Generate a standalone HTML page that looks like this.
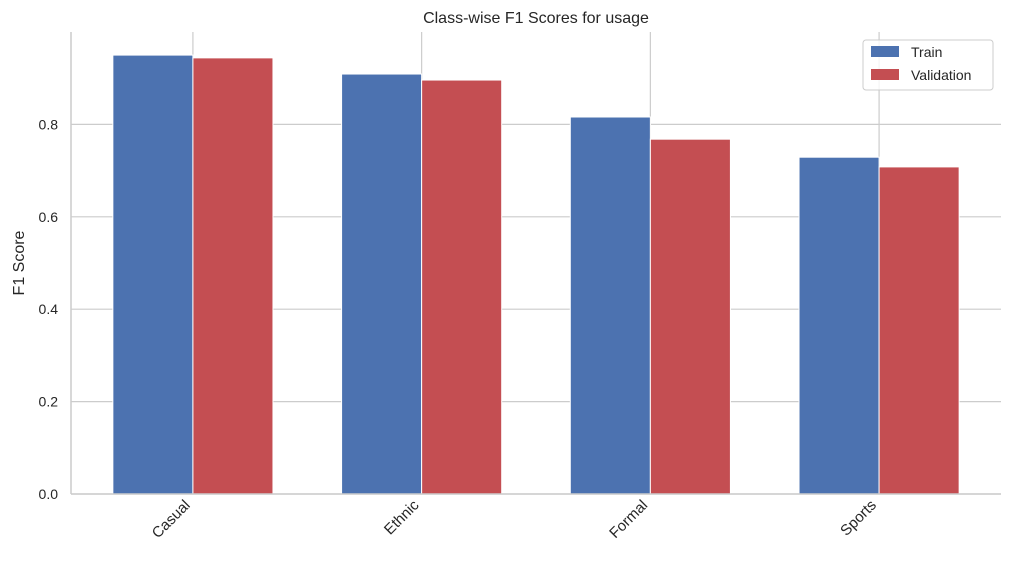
<!DOCTYPE html>
<html><head><meta charset="utf-8"><style>
body{margin:0;background:#fff;}
svg text{font-family:"Liberation Sans","DejaVu Sans",sans-serif;fill:#262626;}
</style></head><body>
<svg id="chart" width="1011" height="565" xmlns="http://www.w3.org/2000/svg">
<text x="536" y="23" font-size="16" text-anchor="middle">Class-wise F1 Scores for usage</text>
<text transform="translate(24,263) rotate(-90)" font-size="16" text-anchor="middle">F1 Score</text>
<g id="grid"></g><g id="bars"></g><g id="axes"></g>
<g>
<rect x="863" y="40" width="130" height="50" rx="3" fill="#fff" fill-opacity="0.8" stroke="#ccc"/>
<rect x="871" y="46" width="28" height="11" fill="#4c72b0"/>
<text x="911" y="57" font-size="14">Train</text>
<rect x="871" y="69" width="28" height="11" fill="#c44e52"/>
<text x="911" y="80" font-size="14">Validation</text>
</g>
</svg>
<script>
const categories=["Casual","Ethnic","Formal","Sports"];
const trainValues=[0.950,0.909,0.816,0.729];
const valValues=[0.944,0.896,0.768,0.708];
const yTicks=[0,0.2,0.4,0.6,0.8];
const yTickLabels=["0.0","0.2","0.4","0.6","0.8"];

const NS="http://www.w3.org/2000/svg";
const L=71,R=1001,T=32,B=494;
const step=(R-L)/(categories.length-1+1.066);
const x=i=>L+step*0.533+i*step;
const y=v=>B-v*(B-T);
const bw=step*0.35;
function mk(tag,attrs,parent){const e=document.createElementNS(NS,tag);for(const k in attrs)e.setAttribute(k,attrs[k]);parent.appendChild(e);return e;}
const grid=document.getElementById('grid'),bars=document.getElementById('bars'),axes=document.getElementById('axes');
yTicks.forEach((t,i)=>{
  const l=mk('line',{x1:L,x2:R,y1:y(t),y2:y(t),stroke:'#cccccc','stroke-width':1.2},grid);
  
  
  const tx=mk('text',{x:L-13,y:y(t)+5,'font-size':14,'text-anchor':'end'},axes);
  tx.textContent=yTickLabels[i];
  
  
});
categories.forEach((c,i)=>{
  const g=mk('line',{x1:x(i),x2:x(i),y1:T,y2:B,stroke:'#cccccc','stroke-width':1.2},grid);
  
  
  const b1=mk('rect',{x:x(i)-bw,y:y(trainValues[i]),width:bw,height:B-y(trainValues[i]),fill:'#4c72b0',stroke:'#fff','stroke-width':1},bars);
  
  
  const b2=mk('rect',{x:x(i),y:y(valValues[i]),width:bw,height:B-y(valValues[i]),fill:'#c44e52',stroke:'#fff','stroke-width':1},bars);
  
  
  const t=mk('text',{transform:`translate(${x(i)-2},${B+12}) rotate(-45)`,'font-size':15,'text-anchor':'end'},axes);
  t.textContent=c;
  
  
});
const la=mk('line',{x1:L,x2:L,y1:T,y2:B,stroke:'#cccccc','stroke-width':1.5},axes);


const ba=mk('line',{x1:L,x2:R,y1:B,y2:B,stroke:'#cccccc','stroke-width':1.5},axes);


</script>
</body></html>
